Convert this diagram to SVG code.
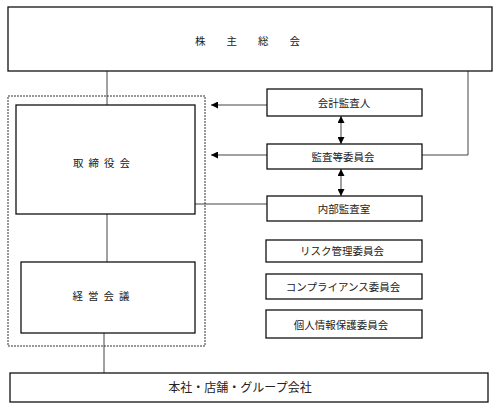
<svg xmlns="http://www.w3.org/2000/svg" width="500" height="416" viewBox="0 0 500 416">
<style>
.box{fill:#fff;stroke:#111;stroke-width:1.3}
.t{font-family:"Liberation Serif","Noto Sans CJK JP",serif;font-size:10.5px;fill:#222;text-anchor:middle;dominant-baseline:central}
.ln{stroke:#444;stroke-width:1;fill:none}
.dash{fill:none;stroke:#333;stroke-width:1;stroke-dasharray:2 1}
</style>
<defs>
<marker id="ah" viewBox="0 0 10 10" refX="10" refY="5" markerWidth="7" markerHeight="7" orient="auto-start-reverse" markerUnits="userSpaceOnUse">
<path d="M0,0 L10,5 L0,10 z" fill="#000"/>
</marker>
</defs>
<rect x="0" y="0" width="500" height="416" fill="#fff"/>
<g id="connectors">
<line class="ln" x1="107" y1="71" x2="107" y2="105"/>
<line class="ln" x1="107" y1="214" x2="107" y2="262"/>
<line class="ln" x1="104" y1="333" x2="104" y2="373" stroke="#000"/>
<line class="ln" x1="267" y1="105" x2="211" y2="105" marker-end="url(#ah)"/>
<line class="ln" x1="267" y1="155" x2="211" y2="155" marker-end="url(#ah)"/>
<line class="ln" x1="267" y1="204" x2="195" y2="204"/>
<polyline class="ln" points="422,155 468,155 468,71"/>
<line class="ln" x1="341" y1="116" x2="341" y2="144" stroke="#000" marker-start="url(#ah)" marker-end="url(#ah)"/>
<line class="ln" x1="341" y1="169" x2="341" y2="196" stroke="#000" marker-start="url(#ah)" marker-end="url(#ah)"/>
</g>
<g id="outer">
<rect class="dash" x="8" y="96" width="197" height="250"/>
</g>
<g id="shareholders">
<rect class="box" x="8" y="7" width="484" height="64"/>
<text class="t" x="258" y="41" letter-spacing="21">株主総会</text>
</g>
<g id="board">
<rect class="box" x="16" y="105" width="179" height="109"/>
<text class="t" x="104" y="163" letter-spacing="5">取締役会</text>
</g>
<g id="management">
<rect class="box" x="21" y="262" width="174" height="71"/>
<text class="t" x="103.5" y="296" letter-spacing="5">経営会議</text>
</g>
<g id="bottom">
<rect class="box" x="10" y="373" width="478" height="29"/>
<text class="t" x="240" y="388" style="font-size:12px">本社・店舗・グループ会社</text>
</g>
<g id="auditor">
<rect class="box" x="267" y="89" width="155" height="27"/>
<text class="t" x="344" y="103">会計監査人</text>
</g>
<g id="audit-committee">
<rect class="box" x="267" y="144" width="155" height="25"/>
<text class="t" x="343" y="157">監査等委員会</text>
</g>
<g id="internal-audit">
<rect class="box" x="267" y="196" width="155" height="25"/>
<text class="t" x="344" y="209">内部監査室</text>
</g>
<g id="risk">
<rect class="box" x="266" y="240" width="156" height="22"/>
<text class="t" x="342" y="251">リスク管理委員会</text>
</g>
<g id="compliance">
<rect class="box" x="266" y="274" width="156" height="25"/>
<text class="t" x="343" y="287">コンプライアンス委員会</text>
</g>
<g id="privacy">
<rect class="box" x="266" y="310" width="156" height="28"/>
<text class="t" x="341" y="325">個人情報保護委員会</text>
</g>
</svg>
